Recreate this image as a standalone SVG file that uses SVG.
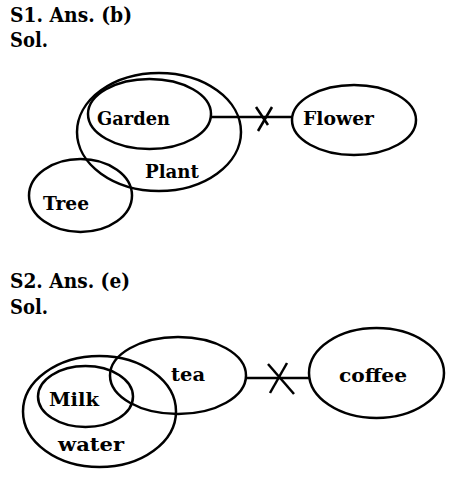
<svg xmlns="http://www.w3.org/2000/svg" width="452" height="477" viewBox="0 0 452 477">
<style>
.t{font-family:"DejaVu Serif","Liberation Serif",serif;font-weight:bold;fill:#000}
.h{font-size:20.5px}
.l{font-size:19px}
.s{fill:none;stroke:#000;stroke-width:2.5}
</style>
<rect width="452" height="477" fill="#fff"/>
<text class="t h" x="10" y="22" textLength="122" lengthAdjust="spacingAndGlyphs">S1. Ans. (b)</text>
<text class="t h" x="10" y="47" textLength="38" lengthAdjust="spacingAndGlyphs">Sol.</text>
<g id="plant"><ellipse class="s" cx="159" cy="132" rx="82" ry="59"/><text class="t l" x="145" y="178" textLength="54" lengthAdjust="spacingAndGlyphs">Plant</text></g>
<g id="garden"><ellipse class="s" cx="149.5" cy="114" rx="61.5" ry="35"/><text class="t l" x="97" y="125" textLength="73" lengthAdjust="spacingAndGlyphs">Garden</text></g>
<g id="tree"><ellipse class="s" cx="80.5" cy="195.5" rx="51.5" ry="36.5"/><text class="t l" x="43" y="210" textLength="46" lengthAdjust="spacingAndGlyphs">Tree</text></g>
<g id="flower"><ellipse class="s" cx="354" cy="120" rx="62" ry="35"/><text class="t l" x="303" y="125" textLength="71" lengthAdjust="spacingAndGlyphs">Flower</text></g>
<text class="t h" x="10" y="288" textLength="120" lengthAdjust="spacingAndGlyphs">S2. Ans. (e)</text>
<text class="t h" x="10" y="314" textLength="38" lengthAdjust="spacingAndGlyphs">Sol.</text>
<g id="water"><ellipse class="s" cx="99.5" cy="411.5" rx="76.5" ry="55.5"/><text class="t l" x="58" y="451" textLength="66" lengthAdjust="spacingAndGlyphs">water</text></g>
<g id="milk"><ellipse class="s" cx="85.5" cy="396.5" rx="47.5" ry="30.5"/><text class="t l" x="49" y="406" textLength="50" lengthAdjust="spacingAndGlyphs">Milk</text></g>
<g id="tea"><ellipse class="s" cx="178" cy="375.5" rx="68" ry="38.5"/><text class="t l" x="171" y="381" textLength="34" lengthAdjust="spacingAndGlyphs">tea</text></g>
<g id="coffee"><ellipse class="s" cx="376.5" cy="373" rx="67.5" ry="45"/><text class="t l" x="339" y="382" textLength="68" lengthAdjust="spacingAndGlyphs">coffee</text></g>
<g id="connectors" class="s">
<line x1="211" y1="117" x2="292" y2="117"/>
<line x1="256" y1="107" x2="268" y2="125"/>
<line x1="272" y1="107" x2="258" y2="131"/>
<line x1="246" y1="378" x2="309" y2="378"/>
<line x1="268" y1="364" x2="294" y2="394"/>
<line x1="287" y1="363" x2="270" y2="393"/>
</g>
</svg>
